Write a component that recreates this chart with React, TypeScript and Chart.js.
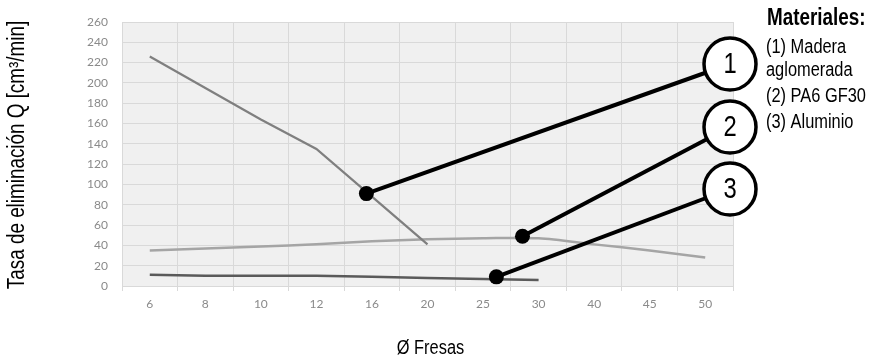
import React, { useEffect, useRef } from "react";
import { Chart, registerables } from "chart.js";

Chart.register(...registerables);

const categories = ["6", "8", "10", "12", "16", "20", "25", "30", "40", "45", "50"];
const maderaValues = [226, 195, 164, 135, 88, 41, null, null, null, null, null];
const pa6Values = [35, 37, 39, 41, 44, 46, 47, 47, 41, 35, 28];
const aluminioValues = [11, 10, 10, 10, 9, 8, 7, 6, null, null, null];
const yTicks = { min: 0, max: 260, step: 20 };

const calloutLabels = ["1", "2", "3"];
const calloutIndex = [3.9, 6.71, 6.24];
const calloutValue = [91, 49, 9];

const legendTitle = "Materiales:";
const legendLines = ["(1) Madera", "aglomerada", "(2) PA6 GF30", "(3) Aluminio"];

const yTitle = "Tasa de eliminación Q [cm³/min]";
const xTitle = "Ø Fresas";

const SANS = '"Liberation Sans", Arial, sans-serif';
const NARROW_SCALE = 0.82;

function narrowText(ctx: any, text: string, x: number, y: number, font: string, align: string, rotate = 0) {
  ctx.save();
  ctx.translate(x, y);
  if (rotate) ctx.rotate(rotate);
  ctx.scale(NARROW_SCALE, 1);
  ctx.font = font;
  ctx.textAlign = align;
  ctx.textBaseline = "middle";
  ctx.fillStyle = "#000";
  ctx.fillText(text, 0, 0);
  ctx.restore();
}

const bgPlugin = {
  id: "plotBg",
  beforeDraw(chart: any) {
    const { ctx, chartArea } = chart;
    ctx.save();
    ctx.fillStyle = "#f0f0f0";
    ctx.fillRect(chartArea.left, chartArea.top, chartArea.right - chartArea.left, chartArea.bottom - chartArea.top);
    ctx.restore();
  },
};

const calloutPlugin = {
  id: "callouts",
  afterDatasetsDraw(chart: any) {
    const { ctx, chartArea, scales } = chart;
    const xs = scales.x;
    const ys = scales.y;
    const cx = chartArea.right - 3;
    const cyList = [chartArea.top + 42, chartArea.top + 105, chartArea.top + 167];
    const r = 26;
    ctx.save();
    for (let i = 0; i < calloutLabels.length; i++) {
      const px = xs.getPixelForValue(calloutIndex[i]);
      const py = ys.getPixelForValue(calloutValue[i]);
      ctx.strokeStyle = "#000";
      ctx.lineWidth = 4;
      ctx.beginPath();
      ctx.moveTo(px, py);
      ctx.lineTo(cx, cyList[i]);
      ctx.stroke();
      ctx.fillStyle = "#000";
      ctx.beginPath();
      ctx.arc(px, py, 7.5, 0, Math.PI * 2);
      ctx.fill();
    }
    for (let i = 0; i < calloutLabels.length; i++) {
      ctx.beginPath();
      ctx.arc(cx, cyList[i], r, 0, Math.PI * 2);
      ctx.fillStyle = "#fff";
      ctx.fill();
      ctx.lineWidth = 3.5;
      ctx.strokeStyle = "#000";
      ctx.stroke();
      narrowText(ctx, calloutLabels[i], cx, cyList[i] + 1, "29px " + SANS, "center");
    }
    // legend text
    const lx = chartArea.right + 34;
    narrowText(ctx, legendTitle, lx, 19, "bold 23px " + SANS, "left");
    const ly = [47, 70, 96, 122];
    for (let i = 0; i < legendLines.length; i++) {
      narrowText(ctx, legendLines[i], lx - 1, ly[i], "20px " + SANS, "left");
    }
    // axis titles
    const midX = (chartArea.left + chartArea.right) / 2;
    narrowText(ctx, xTitle, midX + 3, 348, "20px " + SANS, "center");
    narrowText(ctx, yTitle, 18, (chartArea.top + chartArea.bottom) / 2 + 1, "23px " + SANS, "center", -Math.PI / 2);
    ctx.restore();
  },
};

export default function App() {
  const ref = useRef<HTMLCanvasElement | null>(null);
  useEffect(() => {
    if (!ref.current) return;
    const chart = new Chart(ref.current, {
      type: "line",
      data: {
        labels: categories,
        datasets: [
          { label: "(1) Madera aglomerada", data: maderaValues, borderColor: "#7f7f7f", borderWidth: 2.2, pointRadius: 0, tension: 0, spanGaps: false },
          { label: "(2) PA6 GF30", data: pa6Values, borderColor: "#a5a5a5", borderWidth: 2.5, pointRadius: 0, tension: 0.3 },
          { label: "(3) Aluminio", data: aluminioValues, borderColor: "#5a5a5a", borderWidth: 2.5, pointRadius: 0, tension: 0 },
        ],
      },
      options: {
        animation: false,
        responsive: true,
        maintainAspectRatio: false,
        layout: { padding: { left: 0, top: 22, right: 157, bottom: 0 } },
        plugins: { legend: { display: false }, tooltip: { enabled: false } },
        scales: {
          x: {
            offset: true,
            grid: { offset: true, color: "#d9d9d9", lineWidth: 1, tickLength: 5, drawTicks: true },
            border: { color: "#d9d9d9" },
            ticks: { color: "#8a8a8a", font: { family: "Lato", size: 12 }, padding: 6, maxRotation: 0 },
            title: { display: false, text: xTitle },
            afterFit(scale: any) { scale.height = 77; },
          },
          y: {
            min: yTicks.min,
            max: yTicks.max,
            ticks: { stepSize: yTicks.step, color: "#8a8a8a", font: { family: "Lato", size: 12 }, padding: 14 },
            grid: { color: "#d9d9d9", drawTicks: false },
            border: { color: "#d9d9d9" },
            title: { display: false, text: yTitle },
            afterFit(scale: any) { scale.width = 122; },
          },
        },
      },
      plugins: [bgPlugin, calloutPlugin],
    });
    return () => chart.destroy();
  }, []);
  return (
    <div style={{ position: "fixed", left: 0, top: 0, width: 890, height: 363, background: "#fff" }}>
      <canvas ref={ref} />
    </div>
  );
}
